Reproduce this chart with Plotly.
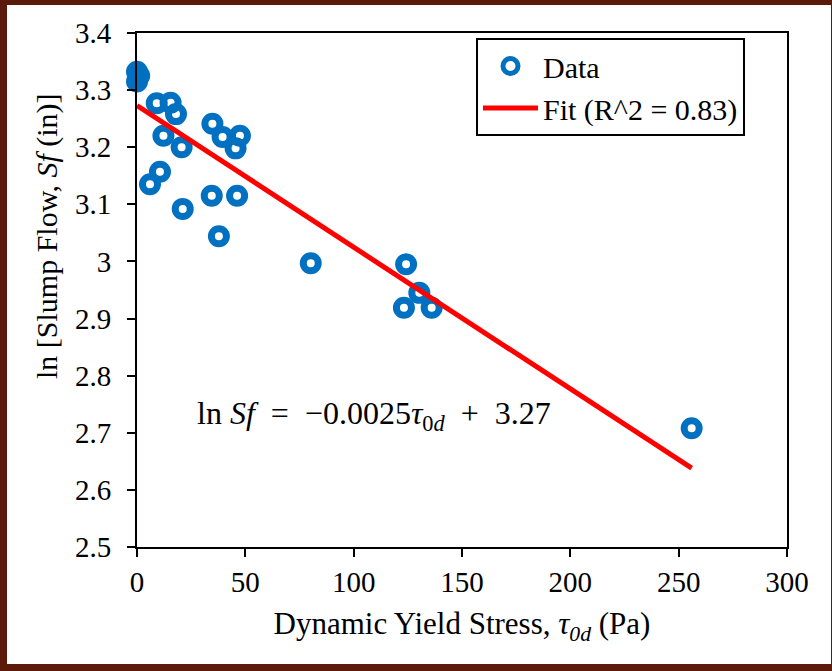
import plotly.graph_objects as go

# Data
tau_0d = [0.0, 1.0, 0.0, 9.1, 15.5, 18.0, 12.2, 20.6, 10.6, 6.0, 21.1,
          34.8, 39.5, 47.5, 45.5, 34.5, 46.2, 37.8, 80.2, 124.2, 130.3,
          123.2, 136.0, 256.0]
ln_sf = [3.332, 3.325, 3.315, 3.277, 3.278, 3.258, 3.220, 3.200, 3.157,
         3.135, 3.092, 3.241, 3.218, 3.220, 3.198, 3.115, 3.115, 3.044,
         2.997, 2.995, 2.945, 2.919, 2.919, 2.708]

fit_x = [0.0, 256.0]
fit_y = [3.273, 2.638]

x_ticks = [0, 50, 100, 150, 200, 250, 300]
x_ticktext = ["0", "50", "100", "150", "200", "250", "300"]
y_ticks = [2.5, 2.6, 2.7, 2.8, 2.9, 3.0, 3.1, 3.2, 3.3, 3.4]
y_ticktext = ["2.5", "2.6", "2.7", "2.8", "2.9", "3", "3.1", "3.2", "3.3", "3.4"]

FONT = "Liberation Serif"
W, H = 832, 671
L, R, T, B = 137, 45, 33, 124
pw, ph = W - L - R, H - T - B

fig = go.Figure()
fig.add_trace(go.Scatter(
    x=tau_0d, y=ln_sf, mode="markers", name="Data",
    marker=dict(symbol="circle-open", size=15, color="#0070C0",
                line=dict(width=7, color="#0070C0")),
    cliponaxis=False,
))
fig.add_trace(go.Scatter(
    x=fit_x, y=fit_y, mode="lines", name="Fit (R^2 = 0.83)",
    line=dict(color="#FF0000", width=5),
))

axis_common = dict(
    showline=True, linecolor="black", linewidth=2, mirror=True,
    ticks="outside", ticklen=8, tickwidth=2, tickcolor="black",
    showgrid=False, zeroline=False,
    tickfont=dict(family=FONT, size=29, color="black"),
    automargin=False,
)

fig.update_xaxes(range=[0, 300], tickvals=x_ticks, ticktext=x_ticktext,
                 title=dict(text="Dynamic Yield Stress, <i>τ<sub>0d</sub></i> (Pa)",
                            font=dict(family=FONT, size=31, color="black"),
                            standoff=16),
                 **axis_common)
fig.update_yaxes(range=[2.5, 3.4], tickvals=y_ticks, ticktext=y_ticktext,
                 ticklabelstandoff=10, **axis_common)

# brown frame: white rectangle on a brown page
fig.add_shape(type="rect", xref="paper", yref="paper", layer="below",
              x0=(7 - L) / pw, x1=(831 - L) / pw,
              y0=(H - B - 664) / ph, y1=(H - B - 5) / ph,
              fillcolor="white", line=dict(width=0))

fig.add_annotation(
    xref="paper", yref="paper",
    x=(47 - L) / pw, y=(H - B - 236) / ph,
    text="ln [Slump Flow, <i>Sf</i> (in)]", textangle=-90, showarrow=False,
    font=dict(family=FONT, size=30, color="black"),
    xanchor="center", yanchor="middle",
)
fig.add_annotation(
    xref="paper", yref="paper",
    x=(374 - L) / pw, y=(H - B - 415) / ph,
    text="ln <i>Sf</i>\u2002=\u2002−0.0025<i>τ</i><sub>0<i>d</i></sub>\u2002+\u20023.27",
    showarrow=False, font=dict(family=FONT, size=32, color="black"),
    xanchor="center", yanchor="middle",
)

fig.update_layout(
    width=W, height=H,
    margin=dict(l=L, r=R, t=T, b=B, pad=0),
    paper_bgcolor="#5C1A0A", plot_bgcolor="white",
    showlegend=True,
    legend=dict(x=(476 - L) / pw, y=(H - B - 38) / ph, xanchor="left", yanchor="top",
                bordercolor="black", borderwidth=2, bgcolor="white",
                font=dict(family=FONT, size=30, color="black"),
                tracegroupgap=0, itemwidth=55),
)

fig.write_html("out.html", config={"displayModeBar": False},
               post_script="document.body.style.margin='0';")
